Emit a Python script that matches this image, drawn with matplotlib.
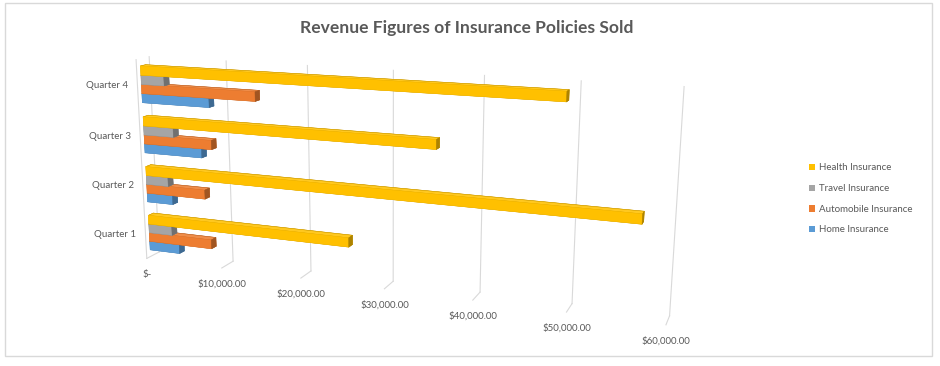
import numpy as np
import matplotlib
matplotlib.use("Agg")
import matplotlib.pyplot as plt
from matplotlib.patches import Rectangle, Patch
from matplotlib.colors import to_rgba
from matplotlib.transforms import offset_copy

# ---------------- data ----------------
quarters = ["Quarter 1", "Quarter 2", "Quarter 3", "Quarter 4"]
series_names = ["Home Insurance", "Automobile Insurance", "Travel Insurance", "Health Insurance"]
home = [4000, 3400, 7500, 8700]
automobile = [8300, 7700, 8800, 14500]
travel = [3100, 2900, 3900, 3000]
health = [25500, 57000, 35500, 49000]
series_colors = ["#5B9BD5", "#ED7D31", "#A5A5A5", "#FFC000"]
value_ticks = [0, 10000, 20000, 30000, 40000, 50000, 60000]
tick_labels = ["$-", "$10,000.00", "$20,000.00", "$30,000.00",
               "$40,000.00", "$50,000.00", "$60,000.00"]
title = "Revenue Figures of Insurance Policies Sold"

W, H = 940, 366
TXT = "#595959"
GRID = "#D9D9D9"

plt.rcParams['font.family'] = ['Lato', 'DejaVu Sans']
fig = plt.figure(figsize=(W / 100, H / 100), dpi=100)
fig.patch.set_facecolor("white")

ax = fig.add_axes([0.2, 0.0, H / W, 1.0], projection="3d", computed_zorder=False)
ax.set_xlim(0, 60000)
ax.set_ylim(0, 1)
ax.set_zlim(0, 4)
ax.set_axis_off()
ax.patch.set_visible(False)

# ------------- camera calibration (layout only) -------------
# (value, depth, category-height) -> pixel position of the wall corners in the picture
calib = np.array([
    (0, 1, 4, 149, 58), (10000, 1, 4, 226, 60), (20000, 1, 4, 307, 65),
    (30000, 1, 4, 393, 70), (40000, 1, 4, 483, 76), (50000, 1, 4, 580, 80),
    (60000, 1, 4, 684, 87), (0, 0, 4, 135, 60), (0, 0, 0, 145, 258),
    (10000, 1, 0, 235, 262), (20000, 1, 0, 312, 272), (30000, 1, 0, 393, 281),
    (40000, 1, 0, 480, 291), (50000, 1, 0, 572, 303), (60000, 1, 0, 671, 317),
    (10000, 0, 0, 223, 267), (20000, 0, 0, 302, 278), (30000, 0, 0, 385, 288),
    (40000, 0, 0, 473, 301), (50000, 0, 0, 566, 312), (60000, 0, 0, 666, 325),
], dtype=float)
tx, ty, tz, px, py = calib.T
P = np.column_stack([px, H - py])


def evaluate(p):
    elev, azim, fl, ay, az = p
    ax.view_init(elev=elev, azim=azim, roll=0)
    ax.set_proj_type("persp", focal_length=fl)
    ax.set_box_aspect((550, ay, az))
    M = ax.get_proj()
    vec = np.vstack([tx, ty, tz, np.ones_like(tx)])
    w = M @ vec
    uv = np.column_stack([w[0] / w[3], w[1] / w[3]])
    a = ax.transAxes.inverted().transform(ax.transData.transform(uv))
    am, pm = a.mean(0), P.mean(0)
    ac, pc = a - am, P - pm
    S = (ac * pc).sum() / (ac * ac).sum()
    L = pm - S * am
    err = ((L + S * a - P) ** 2).sum()
    return err, S, L


p = np.array([12.8, -70.7, 0.38, 38.0, 220.0])
steps = np.array([2.0, 2.0, 0.08, 8.0, 20.0])
best = evaluate(p)[0]
for _ in range(300):
    improved = False
    for i in range(5):
        for sgn in (1, -1):
            q = p.copy()
            q[i] += sgn * steps[i]
            if q[2] <= 0.03 or q[3] <= 2 or q[4] <= 20:
                continue
            e = evaluate(q)[0]
            if e < best:
                best, p, improved = e, q, True
    if not improved:
        steps *= 0.5
        if steps[0] < 0.02:
            break
err, S, L = evaluate(p)
ax.set_position([L[0] / W, L[1] / H, S / W, S / H])

# ---------------- walls / gridlines ----------------
gkw = dict(color=GRID, lw=0.8, zorder=1, clip_on=False)
for v in value_ticks:
    ax.plot([v, v], [1, 1], [0, 4], **gkw)
    ax.plot([v, v], [0, 1], [0, 0], **gkw)
ax.plot([0, 0], [0, 0], [0, 4], **gkw)


# ---------------- bars ----------------
def scale(c, f):
    c = np.array(to_rgba(c))
    c[:3] = c[:3] * f
    return tuple(c)


def lighten(c, f):
    c = np.array(to_rgba(c))
    c[:3] = c[:3] + (1 - c[:3]) * f
    return tuple(c)


bar_t = 0.18
y0, dy = 0.3, 0.4
all_series = [home, automobile, travel, health]
for s, (vals, col) in enumerate(zip(all_series, series_colors)):
    n = len(vals)
    xs = np.zeros(n)
    ys = np.full(n, y0)
    zs = np.arange(n) + 0.5 - 2 * bar_t + s * bar_t
    faces = []
    edges = []
    for _ in range(n):
        # -z, +z, -y, +y, -x, +x
        faces += [scale(col, 0.75), lighten(col, 0.12), to_rgba(col),
                  scale(col, 0.85), scale(col, 0.85), scale(col, 0.68)]
        edges += [scale(col, 0.75), scale(col, 0.8), to_rgba(col),
                  scale(col, 0.85), scale(col, 0.85), scale(col, 0.68)]
    coll = ax.bar3d(xs, ys, zs, vals, np.full(n, dy), np.full(n, bar_t),
                    color=faces, shade=False, zorder=2 + s,
                    edgecolors=edges, linewidths=0.35)
    coll.set_clip_on(False)

# ---------------- labels ----------------
for v, lab in zip(value_ticks, tick_labels):
    ax.text(v, 0, 0, lab, ha="center", va="center", fontsize=7, color=TXT,
            clip_on=False,
            transform=offset_copy(ax.transData, fig=fig, x=0, y=-16, units="dots"))
for q, name in enumerate(quarters):
    ax.text(0, 0, q + 0.5, name, ha="right", va="center", fontsize=7, color=TXT,
            clip_on=False,
            transform=offset_copy(ax.transData, fig=fig, x=-9, y=0, units="dots"))

fig.text(467 / W, 1 - 28 / H, title, ha="center", va="center",
         fontsize=12.6, fontweight="bold", color=TXT)

handles = [Patch(facecolor=c, edgecolor="none") for c in reversed(series_colors)]
leg = fig.legend(handles, list(reversed(series_names)), loc="upper left",
                 bbox_to_anchor=(809 / W, 1 - 163.5 / H), frameon=False, fontsize=7,
                 handlelength=0.65, handleheight=0.65, handletextpad=0.35,
                 labelspacing=1.2, borderaxespad=0, borderpad=0)
for t in leg.get_texts():
    t.set_color(TXT)

fig.add_artist(Rectangle((5 / W, 10 / H), 927 / W, 353 / H, transform=fig.transFigure,
                         fill=False, edgecolor=GRID, lw=1))

fig.savefig("out.png", dpi=100)
